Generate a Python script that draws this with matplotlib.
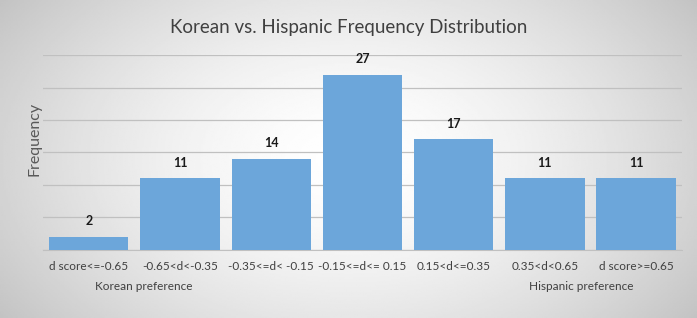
import numpy as np
import matplotlib.pyplot as plt

categories = ["d score<=-0.65", "-0.65<d<-0.35", "-0.35<=d< -0.15", "-0.15<=d<= 0.15",
              "0.15<d<=0.35", "0.35<d<0.65", "d score>=0.65"]
counts = [2, 11, 14, 27, 17, 11, 11]
side_labels = ["Korean preference", "Hispanic preference"]

plt.rcParams["font.family"] = ["Lato", "DejaVu Sans"]

fig = plt.figure(figsize=(6.97, 3.18), dpi=100)

# grey radial background
bg = fig.add_axes([0, 0, 1, 1], zorder=-10)
yy, xx = np.mgrid[-1:1:200j, -1:1:400j]
r = np.sqrt((xx * 0.85) ** 2 + (yy * 0.6) ** 2)
bg.imshow(1 - 0.22 * np.clip(r, 0, 1.2) ** 1.6, cmap="gray", vmin=0, vmax=1,
          aspect="auto", extent=[0, 1, 0, 1])
bg.axis("off")

ax = fig.add_axes([0.062, 0.214, 0.916, 0.613])
ax.patch.set_alpha(0)
x = np.arange(len(categories))
ax.bar(x, counts, width=0.87, color="#6ca6da", zorder=3)
for xi, c in zip(x, counts):
    ax.text(xi, c + 1.5, str(c), ha="center", va="bottom", fontsize=9,
            fontweight="bold", color="#1a1a1a")

ax.set_ylim(0, 30)
ax.set_xlim(-0.5, len(categories) - 0.5)
ax.set_yticks(range(0, 31, 5))
ax.set_yticklabels([])
ax.tick_params(axis="y", length=0)
ax.tick_params(axis="x", length=0, pad=8, labelsize=8.5, labelcolor="#404040")
ax.set_xticks(x)
ax.set_xticklabels(categories)
ax.grid(axis="y", color="#c0c0c0", linewidth=0.9, zorder=0)
for s in ["top", "right", "left"]:
    ax.spines[s].set_visible(False)
ax.spines["bottom"].set_color("#c0c0c0")

ax.set_ylabel("Frequency", fontsize=11.5, color="#595959")
ax.yaxis.set_label_coords(-0.003, 0.57)
fig.text(0.5, 0.915, "Korean vs. Hispanic Frequency Distribution", fontsize=13.5,
         color="#404040", ha="center", va="center")

ax.text(0.6, -0.16, side_labels[0], transform=ax.get_xaxis_transform(),
        ha="center", va="top", fontsize=8.5, color="#404040")
ax.text(5.4, -0.16, side_labels[1], transform=ax.get_xaxis_transform(),
        ha="center", va="top", fontsize=8.5, color="#404040")

fig.savefig("out.png", dpi=100)
